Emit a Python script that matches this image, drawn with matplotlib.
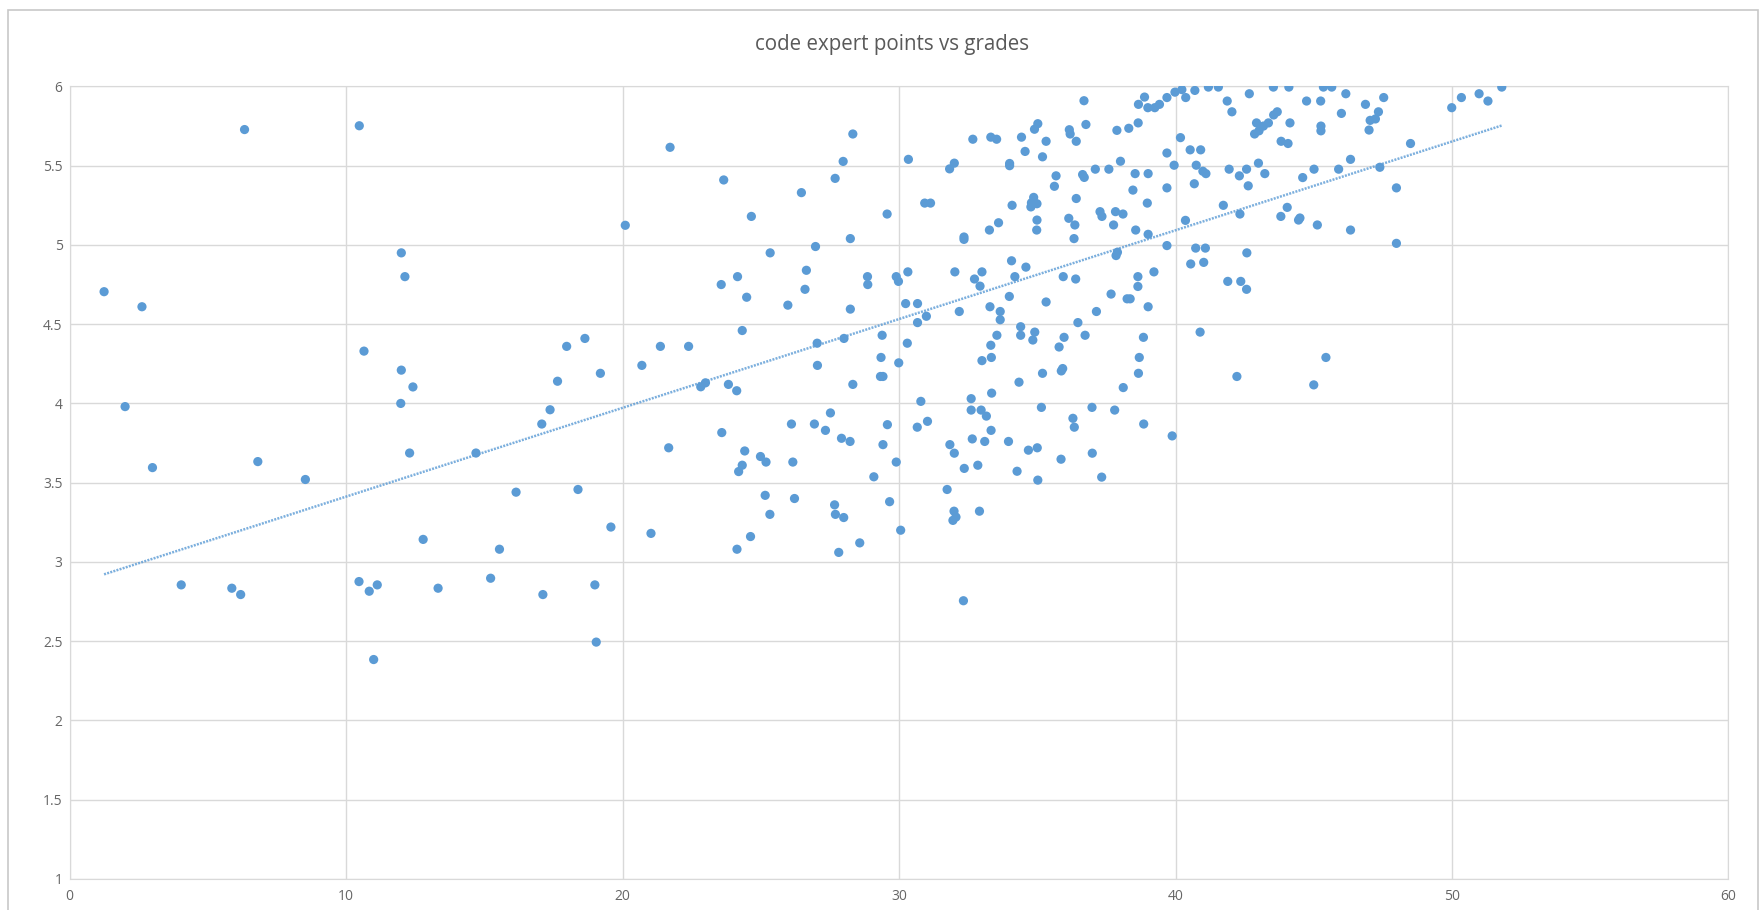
import numpy as np
import matplotlib.pyplot as plt
from matplotlib.patches import Rectangle
from matplotlib.ticker import FuncFormatter

title = 'code expert points vs grades'

# points (code expert) and grade
points = [
    # x < 18
    1.25, 2.01, 2.62, 3.0, 4.04, 5.87, 6.19, 6.33, 6.81, 8.53, 10.48, 10.47,
    10.65, 10.84, 11.0, 11.13, 12.0, 12.13, 12.0, 11.98, 12.3, 12.42, 12.79,
    13.33, 14.7, 15.23, 15.55, 16.15, 17.12, 17.08, 17.38, 17.65,
    # 18 - 28.5, upper
    21.72, 20.1, 23.66, 24.66, 26.47, 27.69, 27.98, 28.33, 25.34, 26.98, 28.24,
    26.65, 24.16, 23.57, 26.6, 24.49, 25.98, 28.24, 18.64, 17.98, 21.37, 22.39,
    24.33, 27.04, 28.01,
    # 18 - 28.5, lower
    19.2, 20.7, 22.83, 23.0, 23.83, 24.13, 27.05, 28.33, 27.52, 26.11, 26.94,
    27.34, 27.92, 28.23, 23.59, 21.67, 24.42, 24.99, 25.19, 26.16, 24.33, 24.2,
    18.39, 25.16, 26.22, 27.67, 25.33, 27.7, 28.0, 19.58, 21.03, 24.63, 24.14,
    28.58, 27.82, 19.0, 19.05,
    # 28.5 - 39.3, upper
    29.57, 30.34, 30.93, 31.14, 32.67, 31.83, 32.0, 32.35, 32.35, 33.32, 33.53,
    34.0, 34.0, 34.43, 34.56, 34.9, 35.02, 35.32, 35.19, 34.09, 33.27, 33.6,
    34.79, 34.87, 34.99, 34.77, 34.99, 34.98, 35.68, 35.62, 36.16, 36.19, 36.41,
    36.69, 36.76, 36.41, 36.64, 36.7, 37.1, 37.59, 38.01, 37.88, 38.31, 38.65,
    38.66, 38.88, 39.0, 39.25, 36.14, 36.36, 36.33, 37.27, 37.34, 37.76, 37.83,
    38.1, 38.56, 38.46, 38.54, 39.01, 38.98, 39.01,
    28.86, 28.87, 29.9, 29.98, 30.32, 29.39, 30.24, 30.67, 30.67, 30.99, 30.3,
    32.02, 32.18, 32.73, 33.0, 32.93, 34.07, 34.19, 34.59, 33.29, 33.99, 33.66,
    33.66, 34.4, 34.4, 34.91, 34.84, 33.32, 33.54, 35.32, 35.94, 36.39, 36.47,
    37.14, 36.73, 35.79, 35.97, 37.67, 37.85, 37.9, 38.25, 38.36, 38.64, 38.64,
    39.22, 39.01, 38.84,
    # 28.5 - 39.3, lower
    29.35, 29.99, 29.33, 29.42, 33.0, 33.34, 34.34, 35.19, 35.87, 35.92, 38.69,
    38.66, 38.11, 33.35, 30.79, 32.61, 32.61, 32.97, 33.16, 35.15, 36.98, 37.8,
    36.29, 36.34, 38.85, 29.58, 30.66, 31.03, 33.33, 29.42, 31.84, 32.0, 32.65,
    33.1, 33.96, 34.68, 35.0, 35.86, 36.99, 29.9, 32.36, 32.85, 34.27, 35.02,
    37.33, 29.09, 31.74, 29.66, 31.99, 32.06, 31.95, 32.91, 30.06, 32.33,
    # 39.3 - 52
    39.42, 39.69, 39.98, 40.23, 40.37, 40.7, 41.19, 41.55, 41.87, 42.04, 42.67,
    43.54, 44.1, 43.68, 43.55, 43.36, 43.18, 42.93, 43.02, 42.86, 44.14, 43.82,
    44.07, 44.74, 45.25, 45.35, 45.65, 46.16, 46.0, 45.26, 45.26, 46.87, 47.53,
    47.34, 47.23, 47.04, 47.0, 49.99, 40.18, 39.69, 40.53, 40.91, 39.95, 40.75,
    40.99, 41.1, 39.69, 40.68, 41.94, 42.57, 43.0, 43.23, 42.31, 42.63, 44.6,
    45.01, 45.9, 46.33, 47.39, 48.5, 47.99, 41.73, 42.33, 40.36, 43.81, 44.04,
    44.45, 44.5, 45.13, 46.33, 39.69, 40.73, 41.08, 40.55, 41.02, 42.58, 47.99,
    41.89, 42.36, 42.57, 40.89, 39.88, 42.22, 45.0, 45.44,
    50.34, 50.98, 51.3, 51.8,
]

grades = [
    4.705, 3.98, 4.61, 3.595, 2.855, 2.834, 2.794, 5.728, 3.633, 3.52, 5.752, 2.876,
    4.33, 2.815, 2.384, 2.855, 4.95, 4.80, 4.21, 4.0, 3.687, 4.104, 3.142,
    2.834, 3.687, 2.897, 3.08, 3.44, 2.794, 3.87, 3.96, 4.14,
    5.616, 5.124, 5.41, 5.18, 5.33, 5.42, 5.527, 5.70, 4.95, 4.99, 5.04,
    4.84, 4.80, 4.75, 4.72, 4.67, 4.62, 4.595, 4.41, 4.36, 4.36, 4.36,
    4.46, 4.38, 4.41,
    4.19, 4.24, 4.105, 4.13, 4.12, 4.08, 4.24, 4.12, 3.94, 3.87, 3.87,
    3.83, 3.78, 3.76, 3.816, 3.72, 3.70, 3.665, 3.63, 3.63, 3.61, 3.57,
    3.457, 3.42, 3.40, 3.36, 3.30, 3.30, 3.28, 3.22, 3.18, 3.16, 3.08,
    3.12, 3.06, 2.855, 2.494,
    5.195, 5.54, 5.264, 5.264, 5.667, 5.48, 5.516, 5.05, 5.035, 5.68, 5.667,
    5.514, 5.50, 5.68, 5.59, 5.73, 5.765, 5.654, 5.556, 5.25, 5.094, 5.14,
    5.266, 5.30, 5.26, 5.24, 5.157, 5.094, 5.436, 5.37, 5.727, 5.70, 5.654,
    5.91, 5.76, 5.293, 5.444, 5.426, 5.478, 5.478, 5.528, 5.723, 5.736, 5.77,
    5.887, 5.933, 5.866, 5.866, 5.168, 5.126, 5.04, 5.21, 5.18, 5.126, 5.21,
    5.195, 5.094, 5.346, 5.45, 5.45, 5.264, 5.067,
    4.80, 4.75, 4.80, 4.77, 4.83, 4.43, 4.63, 4.63, 4.51, 4.55, 4.38,
    4.83, 4.58, 4.785, 4.83, 4.74, 4.90, 4.80, 4.86, 4.61, 4.675, 4.58,
    4.528, 4.484, 4.43, 4.45, 4.40, 4.367, 4.43, 4.64, 4.80, 4.785, 4.51,
    4.58, 4.43, 4.356, 4.417, 4.69, 4.933, 4.954, 4.66, 4.66, 4.80, 4.738,
    4.83, 4.61, 4.417,
    4.29, 4.256, 4.17, 4.17, 4.27, 4.29, 4.134, 4.19, 4.205, 4.22, 4.29,
    4.19, 4.10, 4.065, 4.013, 4.03, 3.958, 3.958, 3.92, 3.975, 3.975, 3.958,
    3.906, 3.85, 3.87, 3.866, 3.85, 3.887, 3.83, 3.74, 3.74, 3.686, 3.776,
    3.76, 3.76, 3.705, 3.72, 3.648, 3.686, 3.63, 3.59, 3.61, 3.572, 3.516,
    3.535, 3.537, 3.457, 3.38, 3.32, 3.283, 3.262, 3.32, 3.20, 2.755,
    5.887, 5.93, 5.964, 5.98, 5.93, 5.975, 5.996, 5.996, 5.908, 5.84, 5.954,
    5.996, 5.996, 5.84, 5.82, 5.77, 5.75, 5.77, 5.72, 5.70, 5.77, 5.654,
    5.64, 5.908, 5.908, 5.996, 5.996, 5.954, 5.83, 5.75, 5.72, 5.887, 5.93,
    5.84, 5.795, 5.786, 5.725, 5.866, 5.677, 5.58, 5.60, 5.60, 5.503, 5.503,
    5.465, 5.45, 5.36, 5.386, 5.478, 5.478, 5.516, 5.45, 5.436, 5.373, 5.425,
    5.478, 5.478, 5.54, 5.49, 5.64, 5.36, 5.25, 5.195, 5.155, 5.18, 5.237,
    5.157, 5.17, 5.126, 5.094, 4.996, 4.98, 4.98, 4.88, 4.89, 4.95, 5.01,
    4.77, 4.77, 4.72, 4.45, 3.795, 4.17, 4.117, 4.29,
    5.93, 5.954, 5.908, 5.996,
]

x = np.array(points)
y = np.array(grades)

blue = '#5b9bd5'
grid_c = '#d9d9d9'
text_c = '#666666'

plt.rcParams['font.family'] = ['Open Sans', 'DejaVu Sans']

fig = plt.figure(figsize=(17.6, 9.1), dpi=100)
ax = fig.add_axes([0.0395, 0.0342, 0.9426, 0.8708])

ax.scatter(x, y, s=44, color=blue, edgecolors='none', zorder=3)

# linear trendline
k, b = np.polyfit(x, y, 1)
tx = np.array([x.min(), x.max()])
ax.plot(tx, k * tx + b, color=blue, lw=1.8, ls=(0, (0.8, 0.5)), alpha=0.8, zorder=2)

ax.set_xlim(0, 60)
ax.set_ylim(1, 6)
ax.set_xticks(np.arange(0, 61, 10))
ax.set_yticks(np.arange(1, 6.01, 0.5))
ax.yaxis.set_major_formatter(FuncFormatter(lambda v, p: '%g' % v))
ax.grid(True, color=grid_c, lw=1)
ax.set_axisbelow(True)
for s in ax.spines.values():
    s.set_color(grid_c)
ax.tick_params(length=0, labelsize=10, labelcolor=text_c)
ax.tick_params(axis='x', pad=7)
ax.tick_params(axis='y', pad=5)

fig.text(0.507, 0.951, title, ha='center', va='center', fontsize=14.8, color='#595959')

fig.patches.append(Rectangle((8 / 1760, -0.01), 1750 / 1760, 1.005 - 5 / 910,
                             transform=fig.transFigure, fill=False, ec='#c8c8c8', lw=1.2))

plt.savefig('out.png', dpi=100)
